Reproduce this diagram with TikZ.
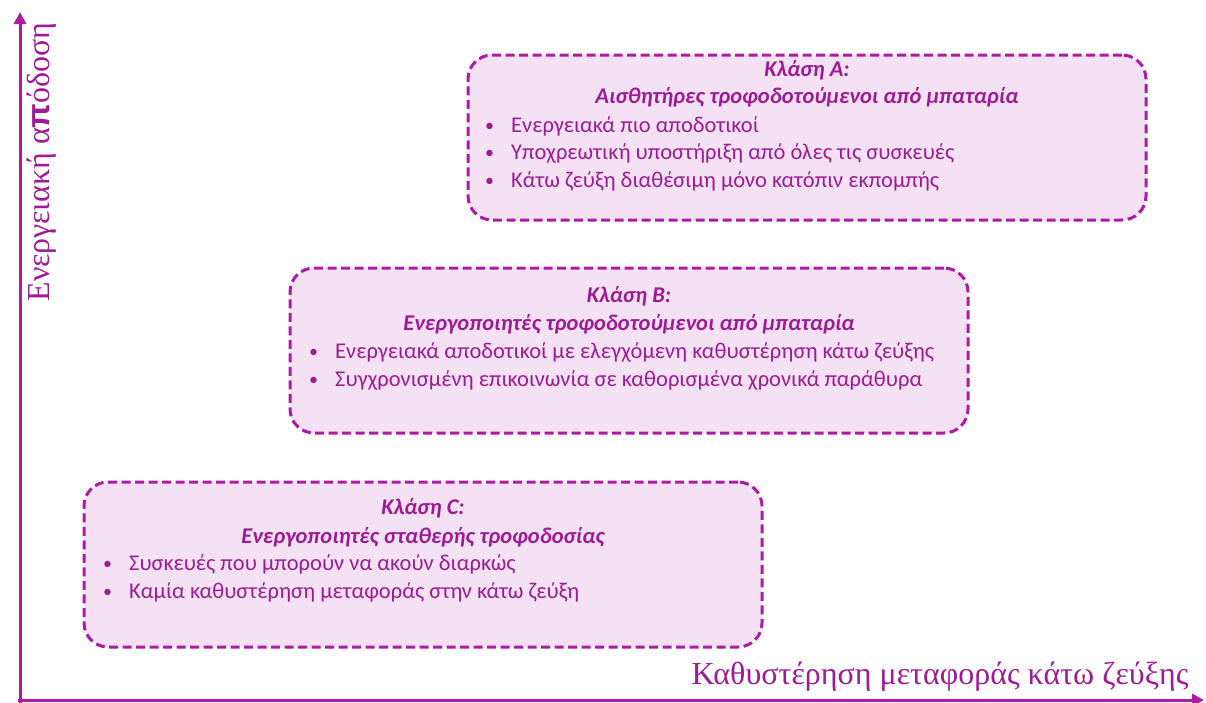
\documentclass[tikz,border=0pt]{standalone}
\usepackage{fontspec}
\setmainfont{Carlito}
\newfontfamily\axisfont{Liberation Serif}
\newfontfamily\heavypi{Liberation Sans}
\usetikzlibrary{arrows.meta}
\definecolor{frame}{HTML}{AE1AA6}
\definecolor{boxfill}{HTML}{F4E1F3}
\definecolor{ink}{HTML}{9E1A96}
\tikzset{
  classbox/.style={draw=frame, fill=boxfill, line width=3pt, dash pattern=on 9pt off 4.5pt,
    rounded corners=24pt, minimum width=678pt, minimum height=165pt, inner sep=0pt},
  title/.style={text=ink, font=\fontsize{22.5}{26}\selectfont\bfseries\itshape, inner sep=0pt, anchor=center},
  item/.style={text=ink, font=\fontsize{22.5}{26}\selectfont, inner sep=0pt, anchor=west},
  axis/.style={draw=frame, line width=3pt, -{Triangle[width=12pt,length=12pt]}},
  axislabel/.style={text=ink, font=\axisfont\fontsize{32}{36}\selectfont, inner sep=0pt}
}
\newcommand{\bul}[1]{\makebox[26pt][l]{\fontsize{18}{20}\selectfont\raisebox{1pt}{•}}#1}
\begin{document}
\begin{tikzpicture}[x=1pt,y=-1pt]
\useasboundingbox (0,0) rectangle (1206,702);

% Class A
\node[classbox] (A) at (807,137.5) {};
\node[title] (A-t) at (807,70) {Κλάση A:};
\node[title] (A-s) at (807,97) {Αισθητήρες τροφοδοτούμενοι από μπαταρία};
\node[item] (A-1) at (485,126) {\bul{Ενεργειακά πιο αποδοτικοί}};
\node[item] (A-2) at (485,153) {\bul{Υποχρεωτική υποστήριξη από όλες τις συσκευές}};
\node[item] (A-3) at (485,181) {\bul{Κάτω ζεύξη διαθέσιμη μόνο κατόπιν εκπομπής}};

% Class B
\node[classbox] (B) at (629,350.5) {};
\node[title] (B-t) at (629,296) {Κλάση B:};
\node[title] (B-s) at (629,324) {Ενεργοποιητές τροφοδοτούμενοι από μπαταρία};
\node[item] (B-1) at (309,352) {\bul{Ενεργειακά αποδοτικοί με ελεγχόμενη καθυστέρηση κάτω ζεύξης}};
\node[item] (B-2) at (309,380) {\bul{Συγχρονισμένη επικοινωνία σε καθορισμένα χρονικά παράθυρα}};

% Class C
\node[classbox] (C) at (423,564.5) {};
\node[title] (C-t) at (423,508) {Κλάση C:};
\node[title] (C-s) at (423,537) {Ενεργοποιητές σταθερής τροφοδοσίας};
\node[item] (C-1) at (103,564) {\bul{Συσκευές που μπορούν να ακούν διαρκώς}};
\node[item] (C-2) at (103,592) {\bul{Καμία καθυστέρηση μεταφοράς στην κάτω ζεύξη}};

% Axes
\coordinate (origin) at (20,700);
\coordinate (ytip) at (20,12);
\coordinate (xtip) at (1204,700);
\draw[axis] (20,703) -- (ytip);
\draw[axis] (18,700) -- (xtip);
\node[axislabel, rotate=90] (ylab) at (42,162) {Ενεργειακή α{\heavypi\bfseries π}όδοση};
\node[axislabel] (xlab) at (940,677) {Καθυστέρηση μεταφοράς κάτω ζεύξης};
\end{tikzpicture}
\end{document}
